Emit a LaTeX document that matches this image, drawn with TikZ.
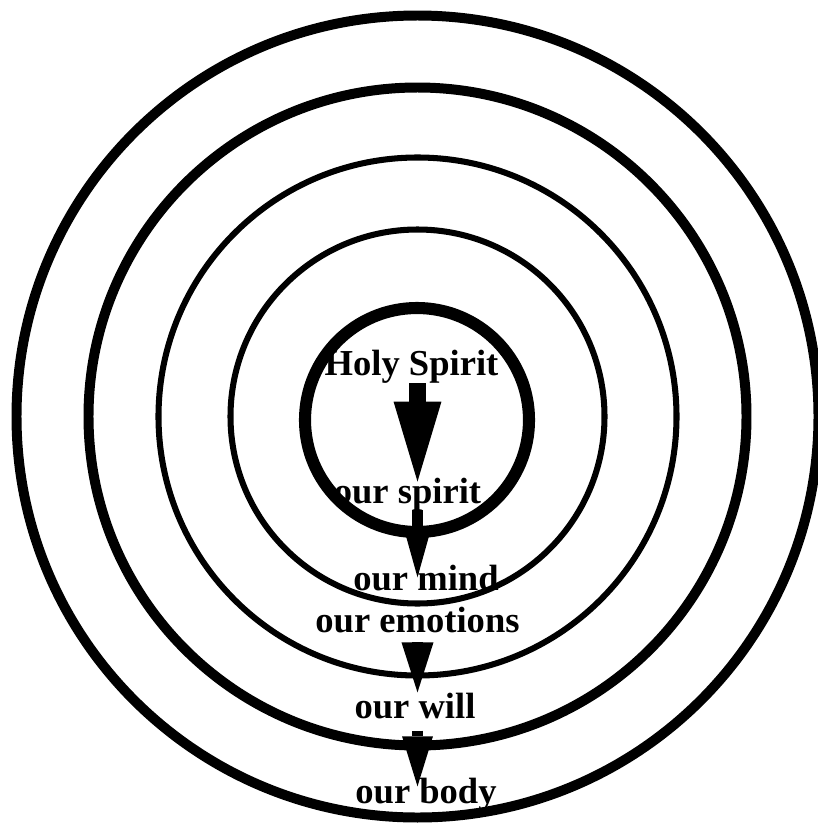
\documentclass[tikz,border=0pt]{standalone}
\usepackage{fontspec}
\setmainfont{Liberation Serif}
\usetikzlibrary{arrows.meta, positioning}

\begin{document}
\begin{tikzpicture}[x=0.025cm, y=-0.025cm,
  ring/.style={draw, line width=#1},
  lbl/.style={inner sep=0pt, anchor=base, font=\fontsize{26}{30}\selectfont\bfseries},
  fl/.style n args={3}{line width=#1, -{Triangle[length=#2, width=#3, line width=0pt]}}]
  \useasboundingbox (0,0) rectangle (817,823);
  \coordinate (c) at (417.5,416.5);
  % the rings, outside in
  \draw[ring=7.1pt] (c) circle[radius=401];
  \draw[ring=7.1pt] (c) circle[radius=329];
  \draw[ring=4.3pt] (c) circle[radius=259];
  \draw[ring=4.3pt] (c) circle[radius=187];
  \draw[ring=8.6pt] (417,420) circle[radius=112];
  % labels
  \node[lbl] (hs) at (411.5,375) {Holy Spirit};
  \node[lbl] (os) at (407.5,503) {our spirit};
  \node[lbl] (om) at (426,590)   {our mind};
  \node[lbl] (oe) at (417.5,632) {our emotions};
  \node[lbl] (ow) at (415,718)   {our will};
  \node[lbl] (ob) at (426,803)   {our body};
  % arrows
  \draw[fl={11.4pt}{56.9pt}{34.1pt}, shorten >=-3pt] (hs.south -| c) -- (os.north -| c);
  \draw[fl={7.8pt}{30.6pt}{17.1pt}, shorten <=-1pt, shorten >=-9.2pt] (os.south -| c) -- (om.north -| c);
  \draw[fl={7.8pt}{35.6pt}{22.8pt}, shorten <=7.1pt] (oe.south -| c) -- (ow.north -| c);
  \draw[fl={7.8pt}{35.6pt}{22pt}, shorten <=8.5pt, shorten >=-6.4pt] (ow.south -| c) -- (ob.north -| c);
\end{tikzpicture}
\end{document}
